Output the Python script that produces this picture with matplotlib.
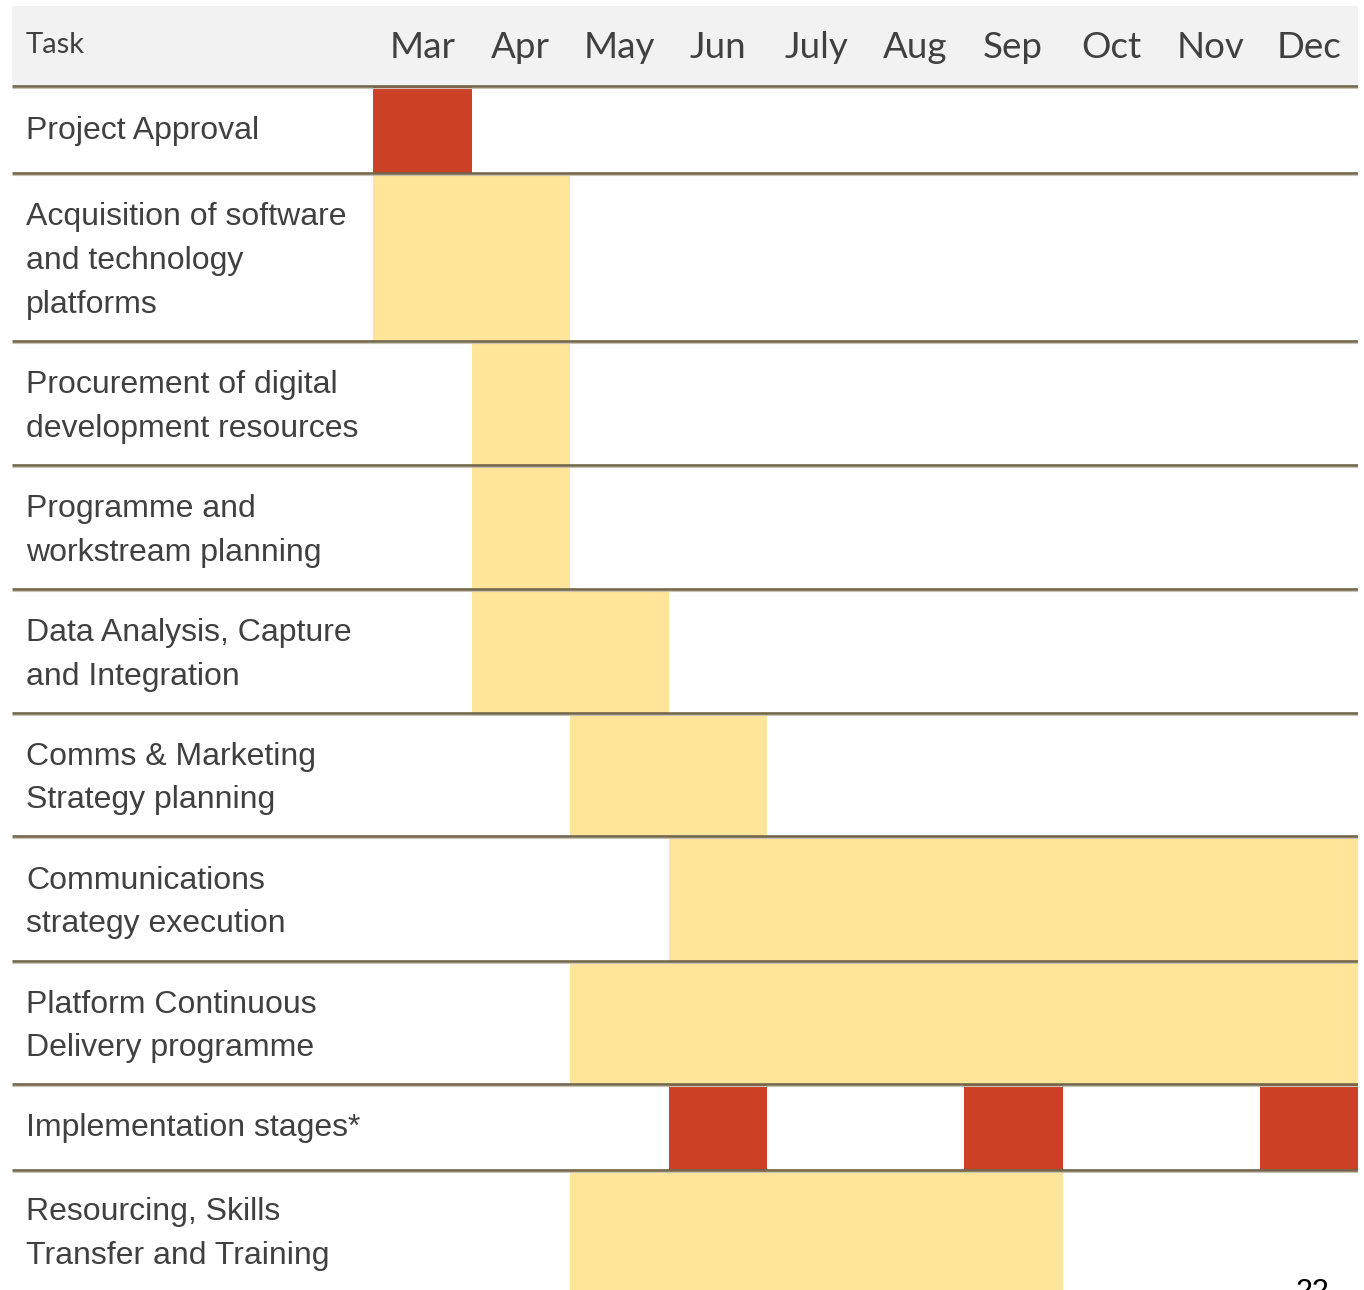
import matplotlib
matplotlib.use("Agg")
import matplotlib.pyplot as plt
from matplotlib.patches import Rectangle

# ---------------- data ----------------
months = ["Mar", "Apr", "May", "Jun", "July", "Aug", "Sep", "Oct", "Nov", "Dec"]
tasks = [
    "Project Approval",
    "Acquisition of software\nand technology\nplatforms",
    "Procurement of digital\ndevelopment resources",
    "Programme and\nworkstream planning",
    "Data Analysis, Capture\nand Integration",
    "Comms & Marketing\nStrategy planning",
    "Communications\nstrategy execution",
    "Platform Continuous\nDelivery programme",
    "Implementation stages*",
    "Resourcing, Skills\nTransfer and Training",
]
# (first month, last month, kind) ; kind: "m" = milestone (red), "a" = activity (yellow)
segments = [
    [("Mar", "Mar", "m")],
    [("Mar", "Apr", "a")],
    [("Apr", "Apr", "a")],
    [("Apr", "Apr", "a")],
    [("Apr", "May", "a")],
    [("May", "Jun", "a")],
    [("Jun", "Dec", "a")],
    [("May", "Dec", "a")],
    [("Jun", "Jun", "m"), ("Sep", "Sep", "m"), ("Dec", "Dec", "m")],
    [("May", "Sep", "a")],
]
header_label = "Task"
page_number = "22"

# ---------------- layout / style ----------------
row_heights = [87, 168, 124, 124, 124, 123, 125, 123, 86, 120]
header_h = 80
colors = {"m": "#CC4125", "a": "#FFE599"}
line_dark = "#72674C"
line_light = "#C9C2B4"
text_col = "#404040"
W, H = 1364, 1290

fig = plt.figure(figsize=(W / 100, H / 100), dpi=100)
fig.patch.set_facecolor("white")
left_px, right_px, top_px = 12, 1358, 6
ax = fig.add_axes([left_px / W, 0, (right_px - left_px) / W, (H - top_px) / H])
col_w = (right_px - 373) / len(months)
label_w = (373 - left_px) / col_w
total_h = sum(row_heights)
ax.set_xlim(-label_w, len(months))
ax.set_ylim(total_h, -header_h)
ax.axis("off")

# header background
ax.add_patch(Rectangle((-label_w, -header_h), len(months) + label_w, header_h,
                       facecolor="#F2F2F2", edgecolor="none", zorder=0))
text_x = -label_w + 14 / col_w
ax.text(text_x, -33, header_label, fontsize=21, family="Lato", color=text_col,
        va="baseline", ha="left")
for i, m in enumerate(months):
    ax.text(i + 0.5, -28, m, fontsize=26.5, family="Lato", color=text_col,
            va="baseline", ha="center")

# rows
y = 0
tops = []
for task, segs, h in zip(tasks, segments, row_heights):
    tops.append(y)
    for s, e, kind in segs:
        i0 = months.index(s)
        i1 = months.index(e)
        ax.barh(y, i1 - i0 + 1, left=i0, height=h, align="edge",
                color=colors[kind], edgecolor="none", zorder=1)
    off = 4 if "\n" in task else 1
    ax.text(text_x, y + h / 2 + off, task, fontsize=23, family="Liberation Sans",
            color=text_col, va="center", ha="left", linespacing=1.6)
    y += h

# separator lines
ax.hlines(tops, -label_w, len(months), colors=line_dark, linewidth=1.9, zorder=3)
ax.hlines([t + 1.9 for t in tops], -label_w, len(months), colors=line_light,
          linewidth=0.8, zorder=3)

fig.text(1312 / W, 1 - 1278 / H, page_number, fontsize=22, family="Liberation Sans",
         color="black", ha="center", va="top")

fig.savefig("out.png", dpi=100)
